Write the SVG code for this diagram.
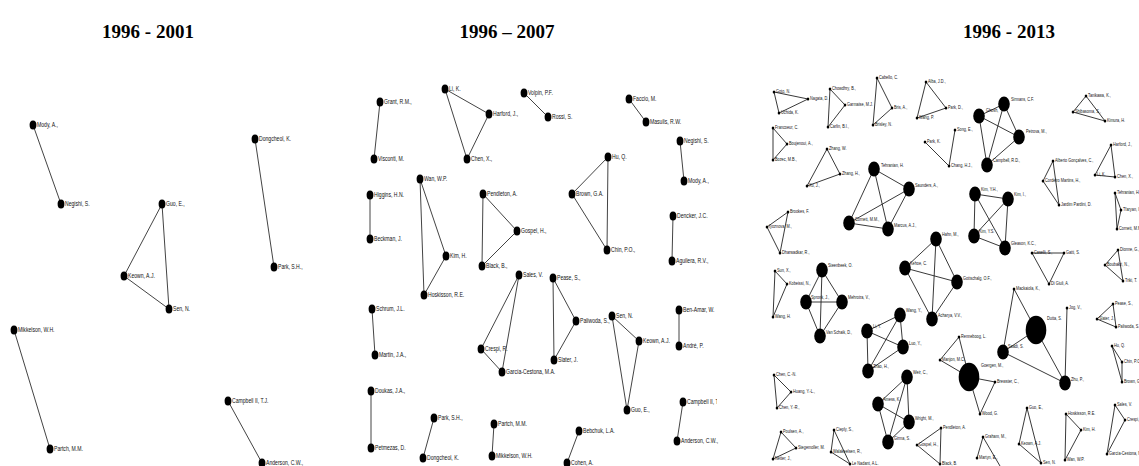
<svg xmlns="http://www.w3.org/2000/svg" width="1139" height="466" viewBox="0 0 1139 466">
<style>
.h{font-family:"Liberation Serif",serif;font-weight:bold;font-size:19px;text-anchor:middle;fill:#000}
.n{fill:#000;rx:3.4px;ry:4.6px}
.s{fill:#000;rx:1.3px;ry:1.5px}
.b{fill:#000;rx:5.8px;ry:7.5px}
.g{fill:#000;rx:10.3px;ry:14.3px}
.t{font-family:"Liberation Sans",Arial,sans-serif;font-size:7px;fill:#111;transform-box:fill-box;transform-origin:0 0;transform:scaleX(.73)}
.u{font-family:"Liberation Sans",Arial,sans-serif;font-size:5px;fill:#111;transform-box:fill-box;transform-origin:0 0;transform:scaleX(.77)}
.e line{stroke:#444;stroke-width:1}
.f line{stroke:#222;stroke-width:.9}
</style>
<defs>
<clipPath id="cm"><rect x="360" y="0" width="357" height="466"/></clipPath>
</defs>
<text class="h" x="148" y="38">1996 - 2001</text>
<text class="h" x="507" y="38">1996 – 2007</text>
<text class="h" x="1009" y="38">1996 - 2013</text>

<g id="connectors">
<g class="e">
<line x1="33" y1="125" x2="61" y2="204"/>
<line x1="255" y1="139" x2="274" y2="267"/>
<line x1="162" y1="204" x2="124" y2="276"/>
<line x1="162" y1="204" x2="169" y2="309"/>
<line x1="124" y1="276" x2="169" y2="309"/>
<line x1="14" y1="330" x2="50" y2="449"/>
<line x1="228" y1="401" x2="262" y2="463"/>
<line x1="380" y1="102" x2="374" y2="159"/>
<line x1="445" y1="89" x2="489" y2="114"/>
<line x1="445" y1="89" x2="467" y2="159"/>
<line x1="489" y1="114" x2="467" y2="159"/>
<line x1="524" y1="93" x2="548" y2="117"/>
<line x1="629" y1="99" x2="646" y2="122"/>
<line x1="680" y1="141" x2="684" y2="181"/>
<line x1="370" y1="195" x2="370" y2="239"/>
<line x1="420" y1="179" x2="424" y2="295"/>
<line x1="420" y1="179" x2="446" y2="256"/>
<line x1="446" y1="256" x2="424" y2="295"/>
<line x1="483" y1="194" x2="517" y2="231"/>
<line x1="483" y1="194" x2="482" y2="266"/>
<line x1="517" y1="231" x2="482" y2="266"/>
<line x1="608" y1="157" x2="572" y2="194"/>
<line x1="608" y1="157" x2="607" y2="250"/>
<line x1="572" y1="194" x2="607" y2="250"/>
<line x1="673" y1="216" x2="672" y2="261"/>
<line x1="519" y1="275" x2="481" y2="349"/>
<line x1="519" y1="275" x2="502" y2="372"/>
<line x1="481" y1="349" x2="502" y2="372"/>
<line x1="553" y1="278" x2="576" y2="321"/>
<line x1="553" y1="278" x2="554" y2="360"/>
<line x1="576" y1="321" x2="554" y2="360"/>
<line x1="612" y1="316" x2="639" y2="341"/>
<line x1="612" y1="316" x2="627" y2="410"/>
<line x1="639" y1="341" x2="627" y2="410"/>
<line x1="679" y1="310" x2="679" y2="346"/>
<line x1="372" y1="309" x2="375" y2="355"/>
<line x1="371" y1="391" x2="371" y2="448"/>
<line x1="434" y1="418" x2="423" y2="458"/>
<line x1="494" y1="424" x2="492" y2="456"/>
<line x1="579" y1="431" x2="567" y2="463"/>
<line x1="683" y1="402" x2="677" y2="441"/>
</g>
<g class="f">
<line x1="774" y1="92" x2="808" y2="99"/>
<line x1="774" y1="92" x2="779" y2="113"/>
<line x1="779" y1="113" x2="808" y2="99"/>
<line x1="830" y1="89" x2="828" y2="127"/>
<line x1="830" y1="89" x2="845" y2="105"/>
<line x1="845" y1="105" x2="828" y2="127"/>
<line x1="877" y1="78" x2="873" y2="125"/>
<line x1="877" y1="78" x2="892" y2="108"/>
<line x1="892" y1="108" x2="873" y2="125"/>
<line x1="773" y1="128" x2="773" y2="160"/>
<line x1="773" y1="128" x2="787" y2="144"/>
<line x1="787" y1="144" x2="773" y2="160"/>
<line x1="827" y1="149" x2="807" y2="186"/>
<line x1="827" y1="149" x2="840" y2="174"/>
<line x1="840" y1="174" x2="807" y2="186"/>
<line x1="926" y1="82" x2="946" y2="108"/>
<line x1="926" y1="82" x2="917" y2="118"/>
<line x1="917" y1="118" x2="946" y2="108"/>
<line x1="925" y1="142" x2="949" y2="166"/>
<line x1="955" y1="130" x2="949" y2="166"/>
<line x1="874" y1="169" x2="849" y2="223"/>
<line x1="874" y1="169" x2="888" y2="229"/>
<line x1="874" y1="169" x2="909" y2="189"/>
<line x1="849" y1="223" x2="888" y2="229"/>
<line x1="849" y1="223" x2="909" y2="189"/>
<line x1="888" y1="229" x2="909" y2="189"/>
<line x1="979" y1="116" x2="1004" y2="104"/>
<line x1="979" y1="116" x2="987" y2="165"/>
<line x1="979" y1="116" x2="1019" y2="137"/>
<line x1="1004" y1="104" x2="1019" y2="137"/>
<line x1="1004" y1="104" x2="987" y2="165"/>
<line x1="987" y1="165" x2="1019" y2="137"/>
<line x1="975" y1="194" x2="1008" y2="199"/>
<line x1="975" y1="194" x2="974" y2="236"/>
<line x1="975" y1="194" x2="1005" y2="248"/>
<line x1="1008" y1="199" x2="974" y2="236"/>
<line x1="1008" y1="199" x2="1005" y2="248"/>
<line x1="974" y1="236" x2="1005" y2="248"/>
<line x1="936" y1="239" x2="905" y2="268"/>
<line x1="936" y1="239" x2="932" y2="319"/>
<line x1="936" y1="239" x2="957" y2="282"/>
<line x1="905" y1="268" x2="957" y2="282"/>
<line x1="905" y1="268" x2="932" y2="319"/>
<line x1="957" y1="282" x2="932" y2="319"/>
<line x1="1086" y1="96" x2="1073" y2="112"/>
<line x1="1086" y1="96" x2="1105" y2="121"/>
<line x1="1073" y1="112" x2="1105" y2="121"/>
<line x1="1111" y1="145" x2="1095" y2="175"/>
<line x1="1111" y1="145" x2="1115" y2="177"/>
<line x1="1095" y1="175" x2="1115" y2="177"/>
<line x1="1053" y1="161" x2="1043" y2="181"/>
<line x1="1053" y1="161" x2="1059" y2="205"/>
<line x1="1043" y1="181" x2="1059" y2="205"/>
<line x1="1115" y1="193" x2="1117" y2="229"/>
<line x1="1115" y1="193" x2="1121" y2="210"/>
<line x1="1121" y1="210" x2="1117" y2="229"/>
<line x1="1118" y1="250" x2="1105" y2="265"/>
<line x1="1118" y1="250" x2="1123" y2="281"/>
<line x1="1105" y1="265" x2="1123" y2="281"/>
<line x1="1032" y1="253" x2="1064" y2="253"/>
<line x1="1032" y1="253" x2="1049" y2="284"/>
<line x1="1064" y1="253" x2="1049" y2="284"/>
<line x1="788" y1="212" x2="767" y2="227"/>
<line x1="788" y1="212" x2="780" y2="253"/>
<line x1="767" y1="227" x2="780" y2="253"/>
<line x1="775" y1="271" x2="787" y2="284"/>
<line x1="775" y1="271" x2="773" y2="317"/>
<line x1="787" y1="284" x2="773" y2="317"/>
<line x1="822" y1="270" x2="806" y2="302"/>
<line x1="822" y1="270" x2="842" y2="302"/>
<line x1="822" y1="270" x2="820" y2="336"/>
<line x1="806" y1="302" x2="842" y2="302"/>
<line x1="806" y1="302" x2="820" y2="336"/>
<line x1="842" y1="302" x2="820" y2="336"/>
<line x1="867" y1="331" x2="868" y2="371"/>
<line x1="867" y1="331" x2="900" y2="315"/>
<line x1="867" y1="331" x2="903" y2="347"/>
<line x1="868" y1="371" x2="900" y2="315"/>
<line x1="868" y1="371" x2="903" y2="347"/>
<line x1="900" y1="315" x2="903" y2="347"/>
<line x1="907" y1="377" x2="878" y2="404"/>
<line x1="907" y1="377" x2="909" y2="422"/>
<line x1="907" y1="377" x2="888" y2="442"/>
<line x1="878" y1="404" x2="909" y2="422"/>
<line x1="878" y1="404" x2="888" y2="442"/>
<line x1="909" y1="422" x2="888" y2="442"/>
<line x1="774" y1="375" x2="791" y2="392"/>
<line x1="774" y1="375" x2="777" y2="408"/>
<line x1="791" y1="392" x2="777" y2="408"/>
<line x1="781" y1="432" x2="796" y2="448"/>
<line x1="781" y1="432" x2="773" y2="459"/>
<line x1="796" y1="448" x2="773" y2="459"/>
<line x1="834" y1="430" x2="831" y2="452"/>
<line x1="834" y1="430" x2="850" y2="464"/>
<line x1="831" y1="452" x2="850" y2="464"/>
<line x1="959" y1="337" x2="940" y2="360"/>
<line x1="959" y1="337" x2="969" y2="377"/>
<line x1="940" y1="360" x2="969" y2="377"/>
<line x1="969" y1="377" x2="995" y2="382"/>
<line x1="969" y1="377" x2="980" y2="414"/>
<line x1="995" y1="382" x2="980" y2="414"/>
<line x1="941" y1="428" x2="917" y2="445"/>
<line x1="941" y1="428" x2="940" y2="464"/>
<line x1="917" y1="445" x2="940" y2="464"/>
<line x1="983" y1="437" x2="977" y2="458"/>
<line x1="983" y1="437" x2="1000" y2="466"/>
<line x1="1014" y1="289" x2="1036" y2="330"/>
<line x1="1014" y1="289" x2="1003" y2="352"/>
<line x1="1036" y1="330" x2="1003" y2="352"/>
<line x1="1036" y1="330" x2="1065" y2="383"/>
<line x1="1003" y1="352" x2="1065" y2="383"/>
<line x1="1067" y1="308" x2="1065" y2="383"/>
<line x1="1027" y1="408" x2="1019" y2="444"/>
<line x1="1027" y1="408" x2="1041" y2="463"/>
<line x1="1019" y1="444" x2="1041" y2="463"/>
<line x1="1066" y1="414" x2="1081" y2="430"/>
<line x1="1066" y1="414" x2="1065" y2="460"/>
<line x1="1081" y1="430" x2="1065" y2="460"/>
<line x1="1115" y1="405" x2="1125" y2="420"/>
<line x1="1115" y1="405" x2="1107" y2="454"/>
<line x1="1125" y1="420" x2="1107" y2="454"/>
<line x1="1113" y1="304" x2="1097" y2="319"/>
<line x1="1113" y1="304" x2="1116" y2="327"/>
<line x1="1097" y1="319" x2="1116" y2="327"/>
<line x1="1112" y1="346" x2="1122" y2="362"/>
<line x1="1112" y1="346" x2="1122" y2="382"/>
<line x1="1122" y1="362" x2="1122" y2="382"/>
</g>
</g>

<g id="l-mody"><ellipse class="n" cx="33" cy="125"/><text class="t" x="37" y="127.5">Mody, A.,</text></g>
<g id="l-negishi"><ellipse class="n" cx="61" cy="204"/><text class="t" x="65" y="206.5">Negishi, S.</text></g>
<g id="l-dongcheol"><ellipse class="n" cx="255" cy="139"/><text class="t" x="259" y="141.5">Dongcheol, K.</text></g>
<g id="l-park"><ellipse class="n" cx="274" cy="267"/><text class="t" x="278" y="269.5">Park, S.H.,</text></g>
<g id="l-guo"><ellipse class="n" cx="162" cy="204"/><text class="t" x="166" y="206.5">Guo, E.,</text></g>
<g id="l-keown"><ellipse class="n" cx="124" cy="276"/><text class="t" x="128" y="278.5">Keown, A.J.</text></g>
<g id="l-sen"><ellipse class="n" cx="169" cy="309"/><text class="t" x="173" y="311.5">Sen, N.</text></g>
<g id="l-mikkelson"><ellipse class="n" cx="14" cy="330"/><text class="t" x="18" y="332.5">Mikkelson, W.H.</text></g>
<g id="l-partch"><ellipse class="n" cx="50" cy="449"/><text class="t" x="54" y="451.5">Partch, M.M.</text></g>
<g id="l-campbell"><ellipse class="n" cx="228" cy="401"/><text class="t" x="232" y="403.5">Campbell II, T.J.</text></g>
<g id="l-anderson"><ellipse class="n" cx="262" cy="463"/><text class="t" x="266" y="465.5">Anderson, C.W.,</text></g>

<g id="m-grant"><ellipse class="n" cx="380" cy="102"/><text class="t" x="384" y="104.5">Grant, R.M.,</text></g>
<g id="m-visconti"><ellipse class="n" cx="374" cy="159"/><text class="t" x="378" y="161.5">Visconti, M.</text></g>
<g id="m-li"><ellipse class="n" cx="445" cy="89"/><text class="t" x="449" y="91.5">Li, K.</text></g>
<g id="m-harford"><ellipse class="n" cx="489" cy="114"/><text class="t" x="493" y="116.5">Harford, J.,</text></g>
<g id="m-chen"><ellipse class="n" cx="467" cy="159"/><text class="t" x="471" y="161.5">Chen, X.,</text></g>
<g id="m-volpin"><ellipse class="n" cx="524" cy="93"/><text class="t" x="528" y="95.5">Volpin, P.F.</text></g>
<g id="m-rossi"><ellipse class="n" cx="548" cy="117"/><text class="t" x="552" y="119.5">Rossi, S.</text></g>
<g id="m-faccio"><ellipse class="n" cx="629" cy="99"/><text class="t" x="633" y="101.5">Faccio, M.</text></g>
<g id="m-masulis"><ellipse class="n" cx="646" cy="122"/><text class="t" x="650" y="124.5">Masulis, R.W.</text></g>
<g id="m-negishi"><ellipse class="n" cx="680" cy="141"/><text class="t" x="684" y="143.5">Negishi, S.</text></g>
<g id="m-mody"><ellipse class="n" cx="684" cy="181"/><text class="t" x="688" y="183.5">Mody, A.,</text></g>
<g id="m-higgins"><ellipse class="n" cx="370" cy="195"/><text class="t" x="374" y="197.5">Higgins, H.N.</text></g>
<g id="m-beckman"><ellipse class="n" cx="370" cy="239"/><text class="t" x="374" y="241.5">Beckman, J.</text></g>
<g id="m-wan"><ellipse class="n" cx="420" cy="179"/><text class="t" x="424" y="181.5">Wan, W.P.</text></g>
<g id="m-kim"><ellipse class="n" cx="446" cy="256"/><text class="t" x="450" y="258.5">Kim, H.</text></g>
<g id="m-hoskisson"><ellipse class="n" cx="424" cy="295"/><text class="t" x="428" y="297.5">Hoskisson, R.E.</text></g>
<g id="m-pendleton"><ellipse class="n" cx="483" cy="194"/><text class="t" x="487" y="196.5">Pendleton, A.</text></g>
<g id="m-gospel"><ellipse class="n" cx="517" cy="231"/><text class="t" x="521" y="233.5">Gospel, H.,</text></g>
<g id="m-black"><ellipse class="n" cx="482" cy="266"/><text class="t" x="486" y="268.5">Black, B.,</text></g>
<g id="m-hu"><ellipse class="n" cx="608" cy="157"/><text class="t" x="612" y="159.5">Hu, Q.</text></g>
<g id="m-brown"><ellipse class="n" cx="572" cy="194"/><text class="t" x="576" y="196.5">Brown, G.A.</text></g>
<g id="m-chin"><ellipse class="n" cx="607" cy="250"/><text class="t" x="611" y="252.5">Chin, P.O.,</text></g>
<g id="m-dencker"><ellipse class="n" cx="673" cy="216"/><text class="t" x="677" y="218.5">Dencker, J.C.</text></g>
<g id="m-aguilera"><ellipse class="n" cx="672" cy="261"/><text class="t" x="676" y="263.5">Aguilera, R.V.,</text></g>
<g id="m-sales"><ellipse class="n" cx="519" cy="275"/><text class="t" x="523" y="277.5">Sales, V.</text></g>
<g id="m-pease"><ellipse class="n" cx="553" cy="278"/><text class="t" x="557" y="280.5">Pease, S.,</text></g>
<g id="m-crespi"><ellipse class="n" cx="481" cy="349"/><text class="t" x="485" y="351.5">Crespi, R.</text></g>
<g id="m-garcia"><ellipse class="n" cx="502" cy="372"/><text class="t" x="506" y="374.5">García-Cestona, M.A.</text></g>
<g id="m-paliwoda"><ellipse class="n" cx="576" cy="321"/><text class="t" x="580" y="323.5">Paliwoda, S.,</text></g>
<g id="m-slater"><ellipse class="n" cx="554" cy="360"/><text class="t" x="558" y="362.5">Slater, J.</text></g>
<g id="m-sen"><ellipse class="n" cx="612" cy="316"/><text class="t" x="616" y="318.5">Sen, N.</text></g>
<g id="m-keown"><ellipse class="n" cx="639" cy="341"/><text class="t" x="643" y="343.5">Keown, A.J.</text></g>
<g id="m-guo"><ellipse class="n" cx="627" cy="410"/><text class="t" x="631" y="412.5">Guo, E.,</text></g>
<g id="m-benamar"><ellipse class="n" cx="679" cy="310"/><text class="t" x="683" y="312.5">Ben-Amar, W.</text></g>
<g id="m-andre"><ellipse class="n" cx="679" cy="346"/><text class="t" x="683" y="348.5">André, P.</text></g>
<g id="m-campbell" clip-path="url(#cm)"><ellipse class="n" cx="683" cy="402"/><text class="t" x="687" y="404.5">Campbell II, T.J.</text></g>
<g id="m-anderson"><ellipse class="n" cx="677" cy="441"/><text class="t" x="681" y="443.5">Anderson, C.W.,</text></g>
<g id="m-bebchuk"><ellipse class="n" cx="579" cy="431"/><text class="t" x="583" y="433.5">Bebchuk, L.A.</text></g>
<g id="m-cohen"><ellipse class="n" cx="567" cy="463"/><text class="t" x="571" y="465.5">Cohen, A.</text></g>
<g id="m-schrum"><ellipse class="n" cx="372" cy="309"/><text class="t" x="376" y="311.5">Schrum, J.L.</text></g>
<g id="m-martin"><ellipse class="n" cx="375" cy="355"/><text class="t" x="379" y="357.5">Martin, J.A.,</text></g>
<g id="m-doukas"><ellipse class="n" cx="371" cy="391"/><text class="t" x="375" y="393.5">Doukas, J.A.,</text></g>
<g id="m-petmezas"><ellipse class="n" cx="371" cy="448"/><text class="t" x="375" y="450.5">Petmezas, D.</text></g>
<g id="m-park"><ellipse class="n" cx="434" cy="418"/><text class="t" x="438" y="420.5">Park, S.H.,</text></g>
<g id="m-dongcheol"><ellipse class="n" cx="423" cy="458"/><text class="t" x="427" y="460.5">Dongcheol, K.</text></g>
<g id="m-partch"><ellipse class="n" cx="494" cy="424"/><text class="t" x="498" y="426.5">Partch, M.M.</text></g>
<g id="m-mikkelson"><ellipse class="n" cx="492" cy="456"/><text class="t" x="496" y="458.5">Mikkelson, W.H.</text></g>

<g id="r-goto"><ellipse class="s" cx="774" cy="92"/><text class="u" x="776" y="93.5">Goto, N.</text></g>
<g id="r-nagata"><ellipse class="s" cx="808" cy="99"/><text class="u" x="810" y="100.5">Nagata, D.</text></g>
<g id="r-uchida"><ellipse class="s" cx="779" cy="113"/><text class="u" x="781" y="114.5">Uchida, K.</text></g>
<g id="r-chowdhry"><ellipse class="s" cx="830" cy="89"/><text class="u" x="832" y="90.5">Chowdhry, B.,</text></g>
<g id="r-garmaise"><ellipse class="s" cx="845" cy="105"/><text class="u" x="847" y="106.5">Garmaise, M.J.</text></g>
<g id="r-carlin"><ellipse class="s" cx="828" cy="127"/><text class="u" x="830" y="128.5">Carlin, B.I.,</text></g>
<g id="r-cabello"><ellipse class="s" cx="877" cy="78"/><text class="u" x="879" y="79.5">Cabello, C.</text></g>
<g id="r-bris"><ellipse class="s" cx="892" cy="108"/><text class="u" x="894" y="109.5">Bris, A.,</text></g>
<g id="r-brisley"><ellipse class="s" cx="873" cy="125"/><text class="u" x="875" y="126.5">Brisley, N.</text></g>
<g id="r-francoeur"><ellipse class="s" cx="773" cy="128"/><text class="u" x="775" y="129.5">Francoeur, C.</text></g>
<g id="r-boujenoui"><ellipse class="s" cx="787" cy="144"/><text class="u" x="789" y="145.5">Boujenoui, A.,</text></g>
<g id="r-bozec"><ellipse class="s" cx="773" cy="160"/><text class="u" x="775" y="161.5">Bozec, M.B.,</text></g>
<g id="r-zhangw"><ellipse class="s" cx="827" cy="149"/><text class="u" x="829" y="150.5">Zhang, W.</text></g>
<g id="r-zhangh"><ellipse class="s" cx="840" cy="174"/><text class="u" x="842" y="175.5">Zhang, H.,</text></g>
<g id="r-xu"><ellipse class="s" cx="807" cy="186"/><text class="u" x="809" y="187.5">Xu, J.,</text></g>
<g id="r-alba"><ellipse class="s" cx="926" cy="82"/><text class="u" x="928" y="83.5">Alba, J.D.,</text></g>
<g id="r-parkd"><ellipse class="s" cx="946" cy="108"/><text class="u" x="948" y="109.5">Park, D.,</text></g>
<g id="r-wangp"><ellipse class="s" cx="917" cy="118"/><text class="u" x="919" y="119.5">Wang, P.</text></g>
<g id="r-song"><ellipse class="s" cx="955" cy="130"/><text class="u" x="957" y="131.5">Song, E.,</text></g>
<g id="r-parkk"><ellipse class="s" cx="925" cy="142"/><text class="u" x="927" y="143.5">Park, K.</text></g>
<g id="r-chang"><ellipse class="s" cx="949" cy="166"/><text class="u" x="951" y="167.5">Chang, H.J.,</text></g>
<g id="r-tanikawa"><ellipse class="s" cx="1086" cy="96"/><text class="u" x="1088" y="97.5">Tanikawa, K.,</text></g>
<g id="r-shibasoma"><ellipse class="s" cx="1073" cy="112"/><text class="u" x="1075" y="113.5">Shibasoma, S.,</text></g>
<g id="r-kimura"><ellipse class="s" cx="1105" cy="121"/><text class="u" x="1107" y="122.5">Kimura, H.</text></g>
<g id="r-harford"><ellipse class="s" cx="1111" cy="145"/><text class="u" x="1113" y="146.5">Harford, J.,</text></g>
<g id="r-lik"><ellipse class="s" cx="1095" cy="175"/><text class="u" x="1097" y="176.5">Li, K.</text></g>
<g id="r-chenx"><ellipse class="s" cx="1115" cy="177"/><text class="u" x="1117" y="178.5">Chen, X.,</text></g>
<g id="r-alberto"><ellipse class="s" cx="1053" cy="161"/><text class="u" x="1055" y="162.5">Alberto Gonçalves, C.,</text></g>
<g id="r-cordeiro"><ellipse class="s" cx="1043" cy="181"/><text class="u" x="1045" y="182.5">Cordeiro Martins, H.,</text></g>
<g id="r-jardim"><ellipse class="s" cx="1059" cy="205"/><text class="u" x="1061" y="206.5">Jardim Pardini, D.</text></g>
<g id="r-tehranian2"><ellipse class="s" cx="1115" cy="193"/><text class="u" x="1117" y="194.5">Tehranian, H.</text></g>
<g id="r-travlos"><ellipse class="s" cx="1121" cy="210"/><text class="u" x="1123" y="211.5">Tfaryan, I.</text></g>
<g id="r-cornett2"><ellipse class="s" cx="1117" cy="229"/><text class="u" x="1119" y="230.5">Cornett, M.M.</text></g>
<g id="r-dionne"><ellipse class="s" cx="1118" cy="250"/><text class="u" x="1120" y="251.5">Dionne, G.,</text></g>
<g id="r-boubakri"><ellipse class="s" cx="1105" cy="265"/><text class="u" x="1107" y="266.5">Boubakri, N.,</text></g>
<g id="r-triki"><ellipse class="s" cx="1123" cy="281"/><text class="u" x="1125" y="282.5">Triki, T.</text></g>
<g id="r-caselli"><ellipse class="s" cx="1032" cy="253"/><text class="u" x="1034" y="254.5">Caselli, S.,</text></g>
<g id="r-gatti"><ellipse class="s" cx="1064" cy="253"/><text class="u" x="1066" y="254.5">Gatti, S.</text></g>
<g id="r-digiuli"><ellipse class="s" cx="1049" cy="284"/><text class="u" x="1051" y="285.5">Di Giuli, A.</text></g>
<g id="r-brookes"><ellipse class="s" cx="788" cy="212"/><text class="u" x="790" y="213.5">Brookes, F.</text></g>
<g id="r-ozkan"><ellipse class="s" cx="767" cy="227"/><text class="u" x="769" y="228.5">Iyoznova, M.,</text></g>
<g id="r-dharwadkar"><ellipse class="s" cx="780" cy="253"/><text class="u" x="782" y="254.5">Dharwadkar, R.,</text></g>
<g id="r-sun"><ellipse class="s" cx="775" cy="271"/><text class="u" x="777" y="272.5">Sun, X.,</text></g>
<g id="r-kobeissi"><ellipse class="s" cx="787" cy="284"/><text class="u" x="789" y="285.5">Kobeissi, N.,</text></g>
<g id="r-wangh"><ellipse class="s" cx="773" cy="317"/><text class="u" x="775" y="318.5">Wang, H.</text></g>
<g id="r-chencn"><ellipse class="s" cx="774" cy="375"/><text class="u" x="776" y="376.5">Chen, C.-N.</text></g>
<g id="r-huang"><ellipse class="s" cx="791" cy="392"/><text class="u" x="793" y="393.5">Huang, Y.-L.,</text></g>
<g id="r-chenyr"><ellipse class="s" cx="777" cy="408"/><text class="u" x="779" y="409.5">Chen, Y.-R.,</text></g>
<g id="r-poulsen"><ellipse class="s" cx="781" cy="432"/><text class="u" x="783" y="433.5">Poulsen, A.,</text></g>
<g id="r-stegemoller"><ellipse class="s" cx="796" cy="448"/><text class="u" x="798" y="449.5">Stegemoller, M.</text></g>
<g id="r-netter"><ellipse class="s" cx="773" cy="459"/><text class="u" x="775" y="460.5">Netter, J.,</text></g>
<g id="r-cieply"><ellipse class="s" cx="834" cy="430"/><text class="u" x="836" y="431.5">Cieply, S.,</text></g>
<g id="r-x4"><ellipse class="s" cx="831" cy="452"/><text class="u" x="833" y="453.5">Walakeelsen, R.,</text></g>
<g id="r-lenadant"><ellipse class="s" cx="850" cy="464"/><text class="u" x="852" y="465.5">Le Nadant, A.L.</text></g>
<g id="r-renneboog"><ellipse class="s" cx="959" cy="337"/><text class="u" x="961" y="338.5">Renneboog, L.</text></g>
<g id="r-manjon"><ellipse class="s" cx="940" cy="360"/><text class="u" x="942" y="361.5">Manjon, M.C.,</text></g>
<g id="r-brewster"><ellipse class="s" cx="995" cy="382"/><text class="u" x="997" y="383.5">Brewster, C.,</text></g>
<g id="r-wood"><ellipse class="s" cx="980" cy="414"/><text class="u" x="982" y="415.5">Wood, G.</text></g>
<g id="r-pendleton"><ellipse class="s" cx="941" cy="428"/><text class="u" x="943" y="429.5">Pendleton, A.</text></g>
<g id="r-gospel"><ellipse class="s" cx="917" cy="445"/><text class="u" x="919" y="446.5">Gospel, H.,</text></g>
<g id="r-black"><ellipse class="s" cx="940" cy="464"/><text class="u" x="942" y="465.5">Black, B.</text></g>
<g id="r-graham"><ellipse class="s" cx="983" cy="437"/><text class="u" x="985" y="438.5">Graham, M.,</text></g>
<g id="r-x5"><ellipse class="s" cx="977" cy="458"/><text class="u" x="979" y="459.5">Martyn, E.,</text></g>
<g id="r-mackaiola"><ellipse class="s" cx="1014" cy="289"/><text class="u" x="1016" y="290.5">Mackaiola, K.,</text></g>
<g id="r-jog"><ellipse class="s" cx="1067" cy="308"/><text class="u" x="1069" y="309.5">Jog, V.,</text></g>
<g id="r-guo"><ellipse class="s" cx="1027" cy="408"/><text class="u" x="1029" y="409.5">Guo, E.,</text></g>
<g id="r-keown"><ellipse class="s" cx="1019" cy="444"/><text class="u" x="1021" y="445.5">Keown, A.J.</text></g>
<g id="r-sen"><ellipse class="s" cx="1041" cy="463"/><text class="u" x="1043" y="464.5">Sen, N.</text></g>
<g id="r-hoskisson"><ellipse class="s" cx="1066" cy="414"/><text class="u" x="1068" y="415.5">Hoskisson, R.E.</text></g>
<g id="r-kim"><ellipse class="s" cx="1081" cy="430"/><text class="u" x="1083" y="431.5">Kim, H.</text></g>
<g id="r-wan"><ellipse class="s" cx="1065" cy="460"/><text class="u" x="1067" y="461.5">Wan, W.P.</text></g>
<g id="r-sales"><ellipse class="s" cx="1115" cy="405"/><text class="u" x="1117" y="406.5">Sales, V.</text></g>
<g id="r-crespi"><ellipse class="s" cx="1125" cy="420"/><text class="u" x="1127" y="421.5">Crespi, R.</text></g>
<g id="r-garcia"><ellipse class="s" cx="1107" cy="454"/><text class="u" x="1109" y="455.5">García-Cestona, M.A.</text></g>
<g id="r-pease"><ellipse class="s" cx="1113" cy="304"/><text class="u" x="1115" y="305.5">Pease, S.,</text></g>
<g id="r-slater"><ellipse class="s" cx="1097" cy="319"/><text class="u" x="1099" y="320.5">Slater, J.,</text></g>
<g id="r-paliwoda"><ellipse class="s" cx="1116" cy="327"/><text class="u" x="1118" y="328.5">Paliwoda, S.</text></g>
<g id="r-hu"><ellipse class="s" cx="1112" cy="346"/><text class="u" x="1114" y="347.5">Hu, Q.</text></g>
<g id="r-chin"><ellipse class="s" cx="1122" cy="362"/><text class="u" x="1124" y="363.5">Chin, P.O.</text></g>
<g id="r-brown"><ellipse class="s" cx="1122" cy="382"/><text class="u" x="1124" y="383.5">Brown, G.</text></g>

<g id="r-tehranian"><ellipse class="b" cx="874" cy="169"/><text class="u" x="881" y="167">Tehranian, H.</text></g>
<g id="r-cornett"><ellipse class="b" cx="849" cy="223"/><text class="u" x="855" y="221">Cornett, M.M.,</text></g>
<g id="r-marcus"><ellipse class="b" cx="888" cy="229"/><text class="u" x="894" y="227">Marcus, A.J.,</text></g>
<g id="r-saunders"><ellipse class="b" cx="909" cy="189"/><text class="u" x="915" y="187">Saunders, A.,</text></g>
<g id="r-ghosh"><ellipse class="b" cx="979" cy="116"/><text class="u" x="986" y="112">Ghosh,</text></g>
<g id="r-sirmans"><ellipse class="b" cx="1004" cy="104"/><text class="u" x="1011" y="101">Sirmans, C.F.</text></g>
<g id="r-petrova"><ellipse class="b" cx="1019" cy="137"/><text class="u" x="1026" y="133">Petrova, M.,</text></g>
<g id="r-campbell"><ellipse class="b" cx="987" cy="165"/><text class="u" x="993" y="162">Campbell, R.D.,</text></g>
<g id="r-kimyh"><ellipse class="b" cx="975" cy="194"/><text class="u" x="981" y="191">Kim, Y.H.,</text></g>
<g id="r-kimi"><ellipse class="b" cx="1008" cy="199"/><text class="u" x="1014" y="196">Kim, I.,</text></g>
<g id="r-kimys"><ellipse class="b" cx="974" cy="236"/><text class="u" x="979" y="233">Kim, Y.S.</text></g>
<g id="r-gleason"><ellipse class="b" cx="1005" cy="248"/><text class="u" x="1011" y="245">Gleason, K.C.,</text></g>
<g id="r-hahn"><ellipse class="b" cx="936" cy="239"/><text class="u" x="942" y="236">Hahn, M.,</text></g>
<g id="r-kehoe"><ellipse class="b" cx="905" cy="268"/><text class="u" x="910" y="265">Kehoe, C.</text></g>
<g id="r-gottschalg"><ellipse class="b" cx="957" cy="282"/><text class="u" x="963" y="280">Gottschalg, O.F.,</text></g>
<g id="r-acharya"><ellipse class="b" cx="932" cy="319"/><text class="u" x="938" y="317">Acharya, V.V.,</text></g>
<g id="r-steenbeek"><ellipse class="b" cx="822" cy="270"/><text class="u" x="828" y="267">Steenbeek, O.</text></g>
<g id="r-spronk"><ellipse class="b" cx="806" cy="302"/><text class="u" x="811" y="299">Spronk, J.,</text></g>
<g id="r-mehrotra"><ellipse class="b" cx="842" cy="302"/><text class="u" x="848" y="299">Mehrotra, V.,</text></g>
<g id="r-vanschaik"><ellipse class="b" cx="820" cy="336"/><text class="u" x="826" y="334">Van Schaik, D.,</text></g>
<g id="r-liy"><ellipse class="b" cx="867" cy="331"/><text class="u" x="873" y="328">Li, Y.</text></g>
<g id="r-zhao"><ellipse class="b" cx="868" cy="371"/><text class="u" x="873" y="368">Zhao, H.,</text></g>
<g id="r-wangy"><ellipse class="b" cx="900" cy="315"/><text class="u" x="906" y="312">Wang, Y.,</text></g>
<g id="r-luo"><ellipse class="b" cx="903" cy="347"/><text class="u" x="909" y="345">Luo, Y.,</text></g>
<g id="r-weir"><ellipse class="b" cx="907" cy="377"/><text class="u" x="913" y="374">Weir, C.,</text></g>
<g id="r-amess"><ellipse class="b" cx="878" cy="404"/><text class="u" x="883" y="401">Amess, K.</text></g>
<g id="r-wright"><ellipse class="b" cx="909" cy="422"/><text class="u" x="915" y="420">Wright, M.,</text></g>
<g id="r-girma"><ellipse class="b" cx="888" cy="442"/><text class="u" x="894" y="440">Girma, S.</text></g>
<g id="r-goergen"><ellipse class="g" cx="969" cy="377"/><text class="u" x="981" y="367">Goergen, M.,</text></g>
<g id="r-dutta"><ellipse class="g" cx="1036" cy="330"/><text class="u" x="1047" y="320">Dutta, S.</text></g>
<g id="r-saadi"><ellipse class="b" cx="1003" cy="352"/><text class="u" x="1008" y="348">Saadi, S.</text></g>
<g id="r-zhu"><ellipse class="b" cx="1065" cy="383"/><text class="u" x="1071" y="381">Zhu, P.,</text></g>
</svg>
